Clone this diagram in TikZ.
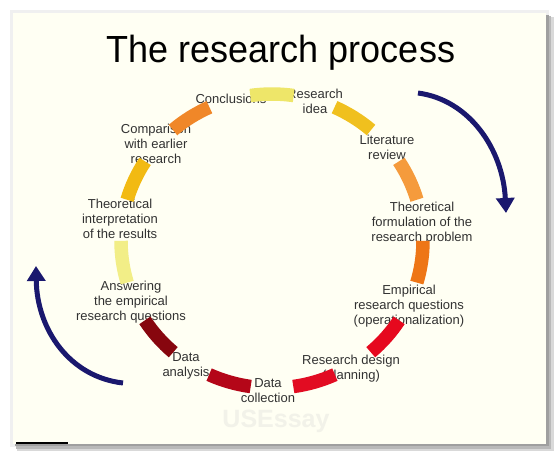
\documentclass[tikz,border=0pt]{standalone}
\usepackage{fontspec}
\setmainfont{Liberation Sans}
\usetikzlibrary{arrows.meta}
\definecolor{ivory}{RGB}{255,255,243}
\definecolor{labelgray}{RGB}{50,50,50}
\definecolor{navyarrow}{RGB}{26,24,110}
\definecolor{wmgray}{RGB}{242,242,233}
\definecolor{dA}{RGB}{238,230,105}
\definecolor{dB}{RGB}{240,192,30}
\definecolor{dC}{RGB}{245,155,60}
\definecolor{dD}{RGB}{238,118,22}
\definecolor{dE}{RGB}{230,8,30}
\definecolor{dF}{RGB}{226,12,34}
\definecolor{dG}{RGB}{180,6,24}
\definecolor{dH}{RGB}{135,6,14}
\definecolor{dI}{RGB}{242,238,135}
\definecolor{dJ}{RGB}{242,186,18}
\definecolor{dK}{RGB}{240,135,40}
\begin{document}
\begin{tikzpicture}[x=1pt,y=-1pt,
  lbl/.style={align=center, inner sep=0pt, text=labelgray, font=\fontsize{13}{15}\selectfont},
  flowarrow/.style={draw=navyarrow, line width=5pt, -{Triangle[width=18pt,length=15pt]}},
  ringdash/.style={line width=13.5pt}]
\useasboundingbox (0,0) rectangle (560,460);
\fill[white] (0,0) rectangle (560,460);
% frame with shadow
\fill[gray!12] (10,10) rectangle (549,447);
\fill[gray!30] (17,17) rectangle (554,451);
\fill[gray!55] (16,16) rectangle (551,449);
\fill[gray!75] (15,15) rectangle (549,446);
\fill[ivory] (13,13) rectangle (546,444);
\draw[line width=1.3pt] (16,443) -- (68,443);
% title
\node[font=\fontsize{36}{40}\selectfont, anchor=base, inner sep=0pt, yscale=1.05] (title) at (281,63) {The research process};
% watermark
\node[font=\bfseries\fontsize{25}{28}\selectfont, text=wmgray] (wm) at (276,421) {USEssay};
% labels
\node[lbl] (concl) at (231,99) {Conclusions};
\node[lbl] (idea) at (315,101.5) {Research\\idea};
\node[lbl] (lit) at (387,147.5) {Literature\\review};
\node[lbl] (tform) at (422,223.5) {Theoretical\\formulation of the\\research problem};
\node[lbl] (emp) at (409,306) {Empirical\\research questions\\(operationalization)};
\node[lbl] (design) at (351,368.5) {Research design\\(planning)};
\node[lbl] (coll) at (268,390.5) {Data\\collection};
\node[lbl] (anal) at (186,365.5) {Data\\analysis};
\node[lbl] (answ) at (131,302) {Answering\\the empirical\\research questions};
\node[lbl] (tint) at (120,219) {Theoretical\\interpretation\\of the results};
\node[lbl] (comp) at (156,144) {Comparison\\with earlier\\research};
% ring of dashes
\begin{scope}[shift={(272,241)}, yscale=-1]
\foreach \k/\col in {0/dA,1/dB,2/dC,3/dD,4/dE,5/dF,6/dG,7/dH,8/dI,9/dJ,10/dK}{
  \pgfmathsetmacro\sa{98.25-\k*32.727}
  \pgfmathsetmacro\ea{\sa-16.5}
  \draw[ringdash, draw=\col] ({151*cos(\sa)},{147*sin(\sa)}) arc[start angle=\sa, end angle=\ea, x radius=151, y radius=147];
}
\end{scope}
% cycle arrows
\coordinate (ra0) at (418,93);
\coordinate (ra1) at (506,213);
\draw[flowarrow] (ra0) .. controls (470,100) and (503,150) .. (ra1);
\coordinate (la0) at (123,383);
\coordinate (la1) at (36,266);
\draw[flowarrow] (la0) .. controls (70,377) and (37,330) .. (la1);
\end{tikzpicture}
\end{document}
